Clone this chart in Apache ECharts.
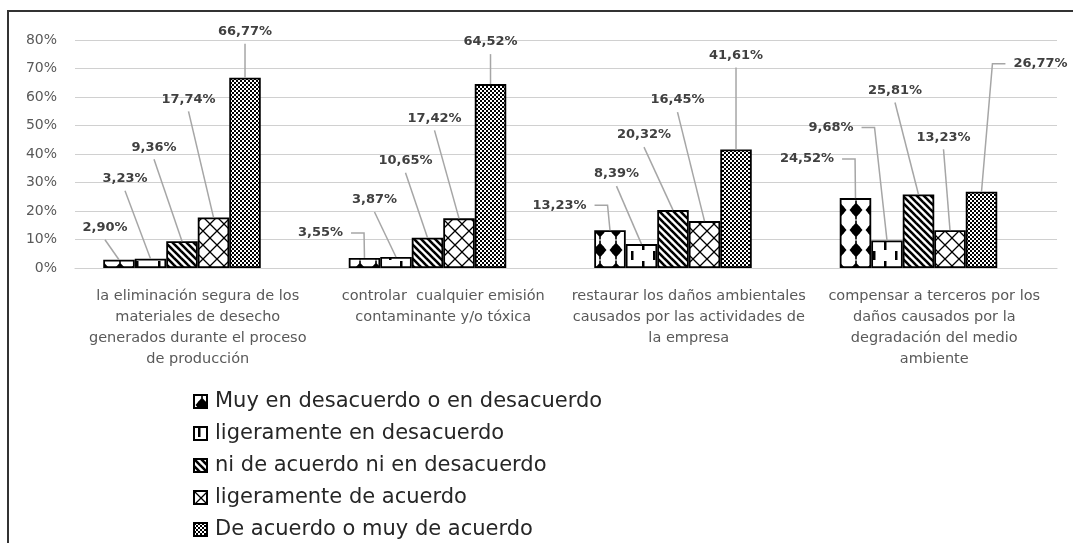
<!DOCTYPE html>
<html>
<head>
<meta charset="utf-8">
<script src="https://cdn.jsdelivr.net/npm/echarts@6/dist/echarts.min.js"></script>
<style>
html, body { margin: 0; padding: 0; background: #fff; }
#chart01 { width: 1073px; height: 543px; }
</style>
</head>
<body>
<div id="chart01"></div>
<script>
// datos (porcentajes)
var categories = [
    'la eliminación segura de los\nmateriales de desecho\ngenerados durante el proceso\nde producción',
    'controlar  cualquier emisión\ncontaminante y/o tóxica',
    'restaurar los daños ambientales\ncausados por las actividades de\nla empresa',
    'compensar a terceros por los\ndaños causados por la\ndegradación del medio\nambiente'
];
var seriesNames = [
    'Muy en desacuerdo o en desacuerdo',
    'ligeramente en desacuerdo',
    'ni de acuerdo ni en desacuerdo',
    'ligeramente de acuerdo',
    'De acuerdo o muy de acuerdo'
];
var muyDesacuerdo = [2.90, 3.55, 13.23, 24.52];
var ligDesacuerdo = [3.23, 3.87, 8.39, 9.68];
var niNi = [9.36, 10.65, 20.32, 25.81];
var ligAcuerdo = [17.74, 17.42, 16.45, 13.23];
var deAcuerdo = [66.77, 64.52, 41.61, 26.77];
var yTickLabels = ['0%', '10%', '20%', '30%', '40%', '50%', '60%', '70%', '80%'];

var values = [muyDesacuerdo, ligDesacuerdo, niNi, ligAcuerdo, deAcuerdo];

// posición de las etiquetas respecto a la parte superior de cada barra
var labelDx = [[-14, -44, -50.5, -48.5], [-25.5, -21.5, -25, -56], [-28, -22, -29, -23.5], [-25, -24.5, -27, -6.5], [0, 0, 0, 59]];
var labelDy = [[-32, -25, -25, -39], [-80, -57, -70, -113], [-94, -77, -75, -104], [-118, -100, -121, -93], [-46, -42, -94, -128]];

var FONT = '"DejaVu Sans", sans-serif';
var GAP = 0.23;   // barCategoryGap
var SLOTS = 6;    // 5 series + una vacía (como en el original)

function tile(w, h, draw) {
    var c = document.createElement('canvas');
    c.width = w; c.height = h;
    var ctx = c.getContext('2d');
    ctx.fillStyle = '#fff';
    ctx.fillRect(0, 0, w, h);
    ctx.fillStyle = '#000';
    ctx.strokeStyle = '#000';
    draw(ctx);
    return c;
}

var patterns = [
    tile(16, 20, function (ctx) {
        ctx.beginPath();
        ctx.moveTo(8, 2.5); ctx.lineTo(14.5, 10); ctx.lineTo(8, 17.5); ctx.lineTo(1.5, 10);
        ctx.closePath(); ctx.fill();
        ctx.beginPath();
        ctx.arc(8, 10, 4.8, 0, Math.PI * 2);
        ctx.fill();
        ctx.fillRect(7.2, 0.5, 1.6, 3);
        ctx.fillRect(7.2, 16.5, 1.6, 3);
    }),
    tile(22, 20, function (ctx) {
        ctx.fillRect(4, 1, 2.5, 9);
        ctx.fillRect(15, 11, 2.5, 9);
    }),
    tile(7, 7, function (ctx) {
        ctx.lineWidth = 2.6;
        [-7, 0, 7].forEach(function (k) {
            ctx.beginPath(); ctx.moveTo(k - 1, -1); ctx.lineTo(k + 8, 8); ctx.stroke();
        });
    }),
    tile(14, 14, function (ctx) {
        ctx.lineWidth = 1.3;
        ctx.beginPath();
        ctx.moveTo(0, 0); ctx.lineTo(14, 14);
        ctx.moveTo(14, 0); ctx.lineTo(0, 14);
        ctx.stroke();
    }),
    tile(4, 4, function (ctx) {
        ctx.fillRect(0, 0, 2, 2);
        ctx.fillRect(2, 2, 2, 2);
    })
];

var measureCtx = document.createElement('canvas').getContext('2d');
measureCtx.font = 'bold 13px ' + FONT;

function fmt(v) {
    return v.toFixed(2).replace('.', ',') + '%';
}

var myChart01 = echarts.init(document.getElementById('chart01'));

var series = [];
for (var s = 0; s < seriesNames.length; s++) {
    series.push({
        name: seriesNames[s],
        type: 'bar',
        barGap: '0%',
        barCategoryGap: (GAP * 100) + '%',
        itemStyle: {
            color: { image: patterns[s], repeat: 'repeat' },
            borderColor: '#000',
            borderWidth: 1.8
        },
        data: values[s]
    });
}
// serie vacía que ocupa el sexto hueco
series.push({
    name: 'vacia',
    type: 'bar',
    barGap: '0%',
    barCategoryGap: (GAP * 100) + '%',
    data: ['-', '-', '-', '-']
});

var labelData = [];
for (var i = 0; i < values.length; i++) {
    for (var g = 0; g < categories.length; g++) {
        labelData.push([g, values[i][g], i]);
    }
}

series.push({
    name: 'etiquetas',
    type: 'custom',
    silent: true,
    clip: false,
    z: 10,
    encode: { x: 0, y: 1 },
    data: labelData,
    renderItem: function (params, api) {
        var g = api.value(0), v = api.value(1), s = api.value(2);
        var top = api.coord([g, v]);
        var band = api.size([1, 0])[0];
        var used = band * (1 - GAP);
        var bw = used / SLOTS;
        var bx = top[0] - used / 2 + (s + 0.5) * bw;
        var by = top[1];
        var dx = labelDx[s][g], dy = labelDy[s][g];
        var lx = bx + dx, ly = by + dy;
        var txt = fmt(v);
        var half = measureCtx.measureText(txt).width / 2;
        var pts;
        if (dx < -40) {
            var x0 = lx + half + 8;
            pts = [[x0, ly], [x0 + 13, ly], [bx, by]];
        } else if (dx > 40) {
            var x1 = lx - half - 8;
            pts = [[x1, ly], [x1 - 13, ly], [bx, by]];
        } else {
            pts = [[lx, ly + 12], [bx, by]];
        }
        return {
            type: 'group',
            children: [
                {
                    type: 'polyline',
                    shape: { points: pts },
                    style: { stroke: '#a6a6a6', lineWidth: 1.5, fill: null }
                },
                {
                    type: 'text',
                    style: {
                        text: txt,
                        x: lx,
                        y: ly,
                        align: 'center',
                        verticalAlign: 'middle',
                        fontFamily: FONT,
                        fontSize: 13,
                        fontWeight: 'bold',
                        fill: '#404040'
                    }
                }
            ]
        };
    }
});

var option = {
    animation: false,
    backgroundColor: '#fff',
    grid: {
        left: 75,
        right: 16,
        top: 40,
        bottom: 275,
        outerBoundsMode: 'none'
    },
    legend: {
        data: seriesNames,
        orient: 'vertical',
        left: 193,
        top: 391,
        height: 150,
        padding: 0,
        icon: 'rect',
        itemWidth: 13,
        itemHeight: 13,
        itemGap: 11,
        textStyle: {
            fontFamily: FONT,
            fontSize: 21,
            lineHeight: 20,
            color: '#262626',
            padding: [0, 0, 0, 3]
        }
    },
    xAxis: [
        {
            type: 'category',
            data: categories,
            axisTick: { show: false },
            axisLine: { lineStyle: { color: '#d0d0d0', width: 1.2 } },
            axisLabel: {
                interval: 0,
                color: '#595959',
                fontFamily: FONT,
                fontSize: 14.5,
                lineHeight: 21,
                margin: 18
            }
        }
    ],
    yAxis: [
        {
            type: 'value',
            min: 0,
            max: 80,
            interval: 10,
            axisLine: { show: false },
            axisTick: { show: false },
            axisLabel: {
                color: '#595959',
                fontFamily: FONT,
                fontSize: 14,
                margin: 18,
                formatter: function (v) { return yTickLabels[Math.round(v / 10)]; }
            },
            splitLine: { lineStyle: { color: '#d0d0d0', width: 1.2 } }
        }
    ],
    graphic: [
        {
            type: 'polyline',
            silent: true,
            shape: { points: [[8, 543], [8, 11], [1073, 11]] },
            style: { stroke: '#333', lineWidth: 2, fill: null }
        }
    ],
    series: series
};

myChart01.setOption(option);
</script>
</body>
</html>
